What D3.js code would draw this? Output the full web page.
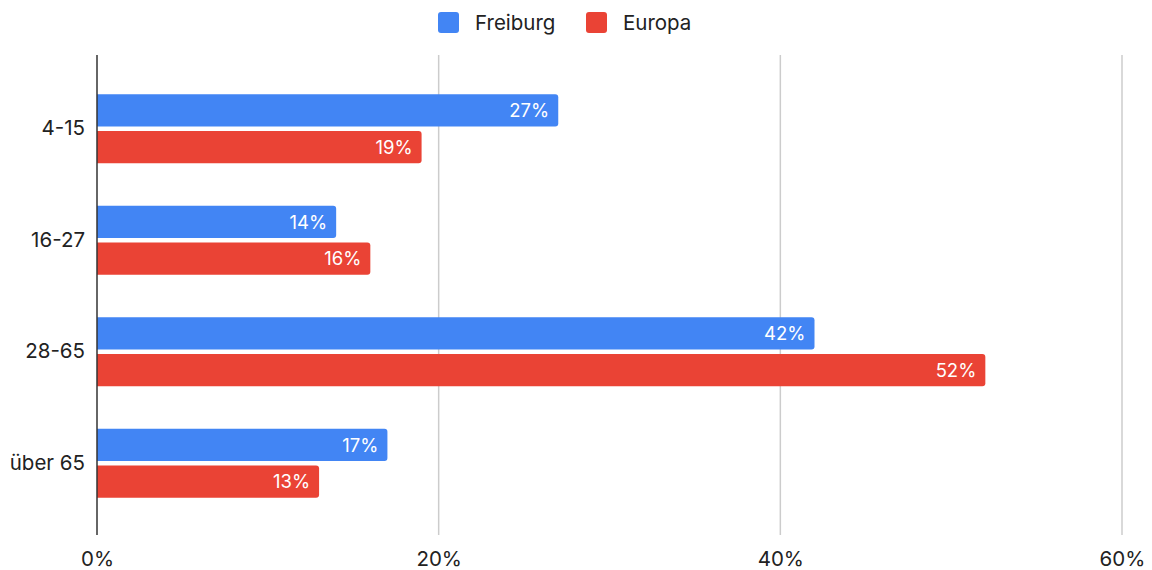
<!DOCTYPE html>
<html>
<head>
<meta charset="utf-8">
<script src="https://cdn.jsdelivr.net/npm/d3@7"></script>
<style>
  html, body { margin: 0; padding: 0; background: #fff; }
  svg { display: block; font-family: Inter, Roboto, "Noto Sans", sans-serif; }
</style>
</head>
<body>
<svg id="chart" width="1152" height="570"></svg>
<script>
// Age groups and share of each population (percent)
const categories = ["4-15", "16-27", "28-65", "über 65"];
const seriesNames = ["Freiburg", "Europa"];
const freiburg = [27, 14, 42, 17];
const europa = [19, 16, 52, 13];
const xTicks = [0, 20, 40, 60];
const colors = ["#4285F4", "#EA4335"];

const svg = d3.select("#chart");
const left = 97, right = 1122;
const plotTop = 55, plotBottom = 535;
const axisFont = 20.5, labelFont = 18.5;

const x = d3.scaleLinear().domain([0, 60]).range([left, right]);
const y = d3.scaleBand().domain(categories).range([73, 519]).paddingInner(0.38).paddingOuter(0.19);
const ySub = d3.scaleBand().domain(seriesNames).range([0, y.bandwidth()]).paddingInner(0.12);

// Vertical gridlines
svg.append("g").selectAll("line")
  .data(xTicks.filter(d => d > 0))
  .join("line")
  .attr("x1", d => x(d)).attr("x2", d => x(d))
  .attr("y1", plotTop).attr("y2", plotBottom)
  .attr("stroke", "#cccccc").attr("stroke-width", 1.5);

// x tick labels
const xAxis = d3.axisBottom(x).tickValues(xTicks).tickFormat(d => d + "%").tickSize(0).tickPadding(0);
const gx = svg.append("g").attr("transform", `translate(0,${plotBottom + 16})`).call(xAxis);
gx.select(".domain").remove();
gx.selectAll("text").attr("font-size", axisFont).attr("fill", "#222").attr("font-family", "Inter, Roboto, sans-serif");

// y tick labels
const yAxis = d3.axisLeft(y).tickSize(0).tickPadding(12);
const gy = svg.append("g").attr("transform", `translate(${left},0)`).call(yAxis);
gy.select(".domain").remove();
gy.selectAll("text").attr("font-size", axisFont).attr("fill", "#222").attr("font-family", "Inter, Roboto, sans-serif");

// Bars with rounded right ends
const rows = [];
categories.forEach((c, i) => {
  rows.push({ cat: c, series: "Freiburg", value: freiburg[i], color: colors[0] });
  rows.push({ cat: c, series: "Europa", value: europa[i], color: colors[1] });
});

function barPath(x0, x1, y0, h, r) {
  return `M${x0},${y0}H${x1 - r}Q${x1},${y0} ${x1},${y0 + r}V${y0 + h - r}Q${x1},${y0 + h} ${x1 - r},${y0 + h}H${x0}Z`;
}

const bars = svg.append("g");
bars.selectAll("path")
  .data(rows)
  .join("path")
  .attr("d", d => barPath(x(0), x(d.value), y(d.cat) + ySub(d.series), ySub.bandwidth(), 3))
  .attr("fill", d => d.color);

// Value labels inside bar ends
bars.selectAll("text")
  .data(rows)
  .join("text")
  .attr("x", d => x(d.value) - 9)
  .attr("y", d => y(d.cat) + ySub(d.series) + ySub.bandwidth() / 2)
  .attr("dy", "0.36em")
  .attr("text-anchor", "end")
  .attr("font-size", labelFont)
  .attr("fill", "#fff")
  .text(d => d.value + "%");

// Baseline axis
svg.append("line")
  .attr("x1", left).attr("x2", left)
  .attr("y1", plotTop).attr("y2", plotBottom)
  .attr("stroke", "#333").attr("stroke-width", 1.5);

// Legend
const legend = svg.append("g");
const legendItems = [
  { name: seriesNames[0], color: colors[0], x: 438 },
  { name: seriesNames[1], color: colors[1], x: 586 }
];
const li = legend.selectAll("g").data(legendItems).join("g")
  .attr("transform", d => `translate(${d.x},12)`);
li.append("rect").attr("width", 21).attr("height", 21).attr("rx", 3).attr("fill", d => d.color);
li.append("text").attr("x", 37).attr("y", 10.5).attr("dy", "0.36em")
  .attr("font-size", axisFont).attr("fill", "#222").text(d => d.name);
</script>
</body>
</html>
